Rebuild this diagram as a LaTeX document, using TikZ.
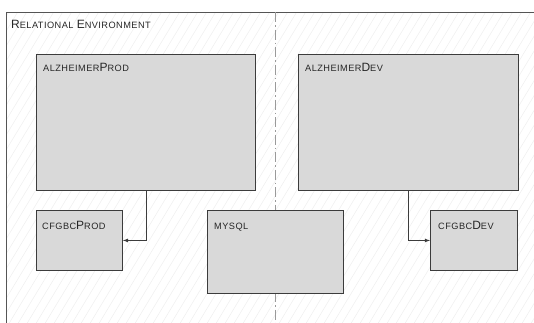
\documentclass[tikz,border=0pt]{standalone}
\usepackage{fontspec}
\setmainfont{Liberation Sans}
\newfontfamily\vsfont[LetterSpace=5]{Liberation Sans}
\usepackage{xcolor}
\usepackage{tikz}
\usetikzlibrary{calc, positioning}

\definecolor{boxgray}{HTML}{D9D9D9}
\definecolor{edgegray}{HTML}{3C3C3C}
\definecolor{hatchgray}{HTML}{F0F0F0}
\definecolor{framegray}{HTML}{555555}
\definecolor{splitgray}{HTML}{9A9A9A}

% fake small caps
\newcommand{\capbig}[1]{{\fontsize{12}{14}\selectfont #1}}
\newcommand{\capsmall}[1]{{\fontsize{9.2}{11}\selectfont #1}}

\begin{document}
\begin{tikzpicture}[>=latex, x=1pt, y=-1pt,
    tbl/.style={draw=edgegray, fill=boxgray, line width=0.9pt, anchor=north west, inner sep=0pt},
    tbllabel/.style={anchor=base west, inner sep=0pt, text=black!85, font=\vsfont}]
                % 1. Khung
                \useasboundingbox (0,0) rectangle (534,322);
                \clip (0,0) rectangle (534,322);
                \begin{scope}
                    \clip (6,12) rectangle (540,340);
                    \foreach \x in {-220,-211,...,540} {
                        \draw[hatchgray, line width=0.6pt] (\x,330) -- ++(200,-330);
                    }
                \end{scope}
                \draw[framegray, line width=0.9pt] (6,340) -- (6,12) -- (540,12);
                \node[tbllabel] (envlbl) at (11,28)
                    {\capbig{R}\capsmall{ELATIONAL} \capbig{E}\capsmall{NVIRONMENT}};

                % 2. Đường chia
                \draw[splitgray, line width=0.9pt, dash pattern=on 10pt off 3pt on 1.5pt off 3pt]
                    (275,12) -- (275,330);

                % 3. Các bảng
                \node[tbl, minimum width=219, minimum height=136] (aprod) at (36,54) {};
                \node[tbl, minimum width=86, minimum height=60] (cprod) at (36,210) {};
                \node[tbl, minimum width=136, minimum height=83] (mysql) at (207,210) {};
                \node[tbl, minimum width=220, minimum height=136] (adev) at (298,54) {};
                \node[tbl, minimum width=87, minimum height=60] (cdev) at (430,210) {};

                \node[tbllabel] (aprodlbl) at ($(aprod.north west)+(7,17)$)
                    {\capsmall{ALZHEIMER}\capbig{P}\capsmall{ROD}};
                \node[tbllabel] (cprodlbl) at ($(cprod.north west)+(6,19)$)
                    {\capsmall{CFGBC}\capbig{P}\capsmall{ROD}};
                \node[tbllabel] (mysqllbl) at ($(mysql.north west)+(7,19)$)
                    {\capsmall{MYSQL}};
                \node[tbllabel] (adevlbl) at ($(adev.north west)+(7,17)$)
                    {\capsmall{ALZHEIMER}\capbig{D}\capsmall{EV}};
                \node[tbllabel] (cdevlbl) at ($(cdev.north west)+(8,19)$)
                    {\capsmall{CFGBC}\capbig{D}\capsmall{EV}};

                % 4. Liên kết
                \draw[->, edgegray, line width=0.8pt] (aprod.south) |- (cprod.east);
                \draw[->, edgegray, line width=0.8pt] (adev.south) |- (cdev.west);
            \end{tikzpicture}
\end{document}
